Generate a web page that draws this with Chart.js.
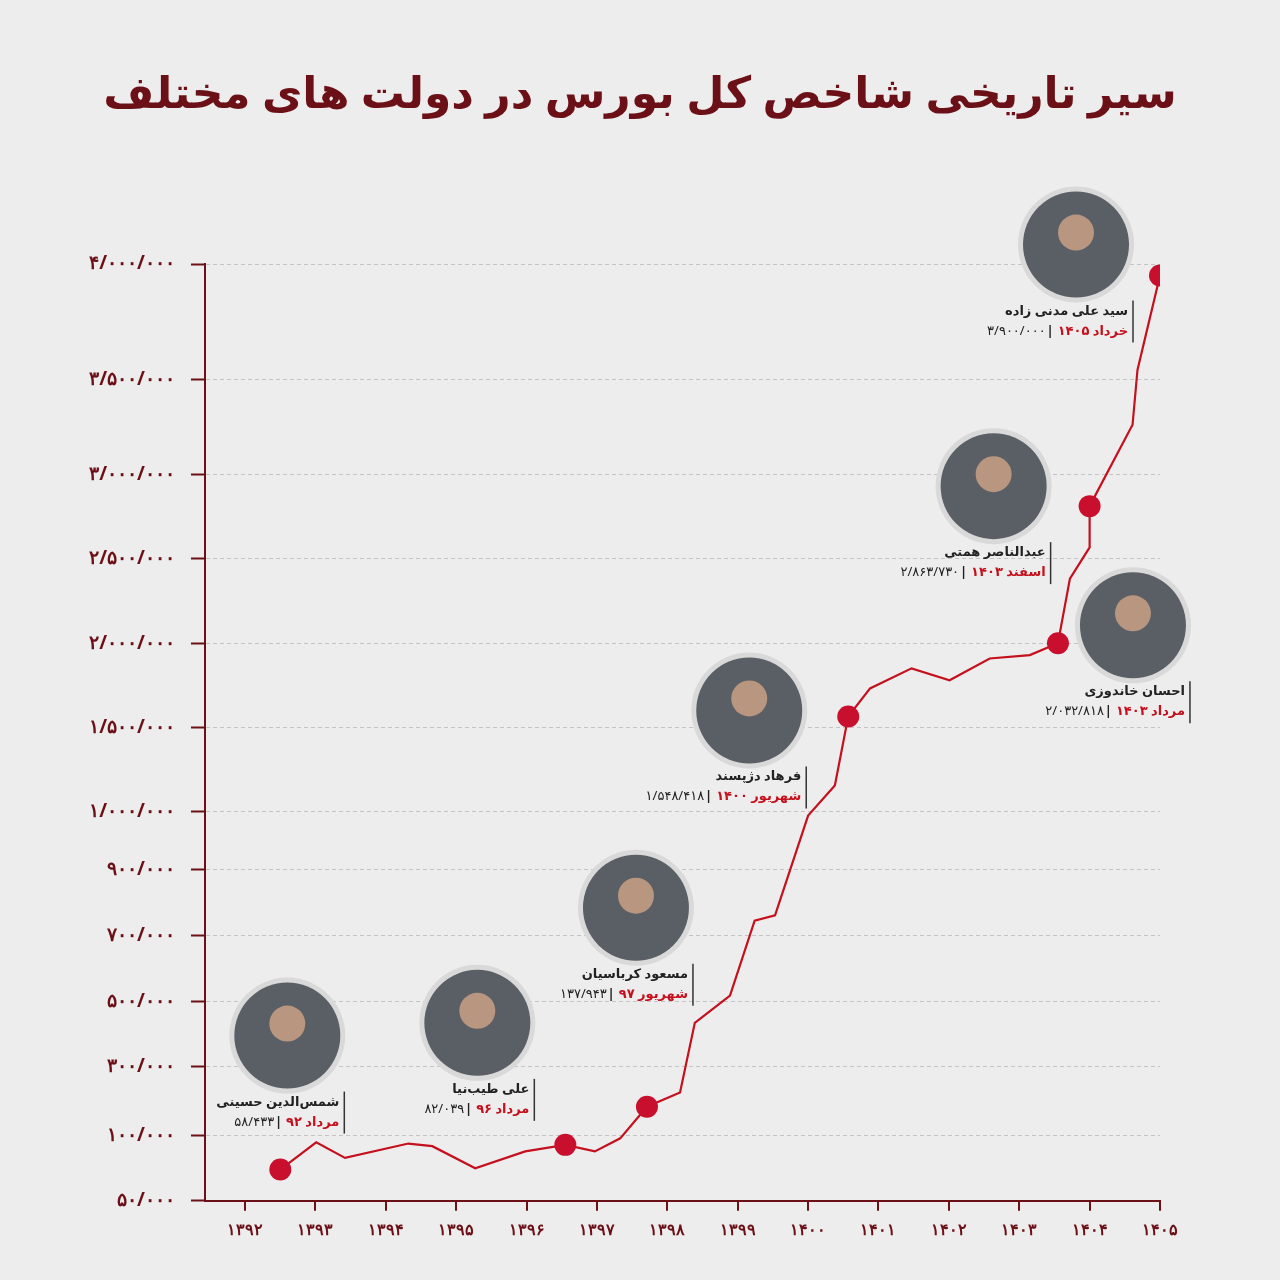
<!DOCTYPE html>
<html><head><meta charset="utf-8">
<script src="https://cdn.jsdelivr.net/npm/chart.js@4"></script>
<style>html,body{margin:0;padding:0;background:#eeeded;}canvas{display:block}</style>
</head><body>
<canvas id="c" width="1280" height="1280"></canvas>
<script>
const years = [1392.5,1393.01,1393.42,1394.32,1394.66,1395.27,1395.98,1396.55,1396.97,1397.33,1397.71,1398.18,1398.39,1398.89,1399.24,1399.53,1400.0,1400.38,1400.57,1400.88,1401.47,1402.01,1402.58,1403.15,1403.55,1403.72,1404.0,1404.0,1404.61,1404.68,1405.0];
const indexValues = [74000,95000,83000,94000,92000,75000,88000,93000,88000,98000,184000,225000,435000,518000,745000,761000,993000,1155000,1565000,1732000,1851000,1780000,1910000,1930000,2000000,2380000,2565000,2810000,3260000,3540000,3950000];
const markerIdx = [0,7,10,18,24,27,30];
const yTickValues = [50000,100000,300000,500000,700000,900000,1000000,1500000,2000000,2500000,3000000,3500000,4000000];
const xTickLabels = [1392,1393,1394,1395,1396,1397,1398,1399,1400,1401,1402,1403,1404,1405];
const people = ["شمس‌الدین حسینی","علی طیب‌نیا","مسعود کرباسیان","فرهاد دژپسند","احسان خاندوزی","عبدالناصر همتی","سید علی مدنی زاده"];
const dates = ["مرداد ۹۲","مرداد ۹۶","شهریور ۹۷","شهریور ۱۴۰۰","مرداد ۱۴۰۳","اسفند ۱۴۰۳","خرداد ۱۴۰۵"];
const labelValues = ["۵۸/۴۳۳","۸۲/۰۳۹","۱۳۷/۹۴۳","۱/۵۴۸/۴۱۸","۲/۰۳۲/۸۱۸","۲/۸۶۳/۷۳۰","۳/۹۰۰/۰۰۰"];
// scale layout (visual spacing of the uneven axis)
const yTickPos = [0,65,134,199,265,331,389,473,557,642,726,821,936];
const annOffsets = [[7,-134],[-88,-122],[-11,-199],[-99,-6],[75,-18],[-96,-20],[-84,-31]];

const fa = s => String(s).replace(/\d/g,d=>'۰۱۲۳۴۵۶۷۸۹'[d]);
const fmt = v => fa(v.toLocaleString('en-US').replace(/,/g,'/'));
function toPos(v){
  for(let i=0;i<yTickValues.length-1;i++){
    if(v<=yTickValues[i+1]){
      const a=yTickValues[i],b=yTickValues[i+1];
      return yTickPos[i]+(v-a)/(b-a)*(yTickPos[i+1]-yTickPos[i]);
    }
  }
  return yTickPos[yTickPos.length-1];
}
const pts = years.map((x,i)=>({x, y: toPos(indexValues[i])}));
const RED='#c4111d', DARK='#6b1016';

const annPlugin = {
  id:'ann',
  afterDatasetsDraw(chart){
    const ctx=chart.ctx, meta=chart.getDatasetMeta(0);
    ctx.save();
    ctx.fillStyle=DARK; ctx.font='bold 44px "Noto Sans", "DejaVu Sans"';
    ctx.textAlign='center'; ctx.direction='rtl';
    ctx.fillText('سیر تاریخی شاخص کل بورس در دولت های مختلف',640,108);
    markerIdx.forEach((idx,k)=>{
      const p=meta.data[idx];
      const cx=p.x+annOffsets[k][0], cy=p.y+annOffsets[k][1];
      ctx.beginPath(); ctx.arc(cx,cy,58,0,Math.PI*2); ctx.fillStyle='#d9d9d9'; ctx.fill();
      ctx.beginPath(); ctx.arc(cx,cy,53,0,Math.PI*2); ctx.fillStyle='#5a5f66'; ctx.fill();
      ctx.beginPath(); ctx.arc(cx,cy-12,18,0,Math.PI*2); ctx.fillStyle='#b89680'; ctx.fill();
      const rx=cx+52, ty=cy+70;
      ctx.strokeStyle='#333'; ctx.lineWidth=1.5;
      ctx.beginPath(); ctx.moveTo(rx+5,ty-14); ctx.lineTo(rx+5,ty+28); ctx.stroke();
      ctx.direction='rtl'; ctx.textAlign='right';
      ctx.font='bold 13px "Noto Sans", "DejaVu Sans"'; ctx.fillStyle='#222';
      ctx.fillText(people[k],rx,ty);
      ctx.fillStyle=RED;
      ctx.fillText(dates[k],rx,ty+20);
      const w=ctx.measureText(dates[k]).width;
      ctx.fillStyle='#222'; ctx.fillText('|',rx-w-4,ty+20);
      ctx.font='13px "Noto Sans", "DejaVu Sans"';
      ctx.direction='ltr'; ctx.textAlign='right';
      ctx.fillText(labelValues[k],rx-w-12,ty+20);
    });
    ctx.restore();
  }
};

new Chart(document.getElementById('c'),{
  type:'line',
  data:{datasets:[{data:pts,borderColor:RED,borderWidth:2.2,tension:0,
    pointRadius:pts.map((_,i)=>markerIdx.includes(i)?11:0),
    pointBackgroundColor:'#c8102e',pointBorderWidth:0}]},
  options:{
    responsive:false,animation:false,
    layout:{padding:{top:264,right:120,bottom:30,left:0}},
    plugins:{legend:{display:false},tooltip:{enabled:false}},
    scales:{
      x:{type:'linear',min:1391.43,max:1405,
        afterBuildTicks:s=>{s.ticks=xTickLabels.map(v=>({value:v}));},
        ticks:{callback:v=>fa(v),color:DARK,font:{size:16,weight:'bold',family:'"Noto Sans"'},padding:10,maxRotation:0,autoSkip:false},
        grid:{display:true,drawOnChartArea:false,color:DARK,tickLength:10,lineWidth:2},
        border:{color:DARK,width:2}},
      y:{type:'linear',min:0,max:936,
        afterFit:s=>{s.width=205;},
        afterBuildTicks:s=>{s.ticks=yTickPos.map(v=>({value:v}));},
        ticks:{callback:(v)=>{const i=yTickPos.indexOf(v);return i>=0?fmt(yTickValues[i]):'';},color:DARK,font:{size:19,weight:'bold',family:'"Noto Sans"'},padding:16,autoSkip:false},
        grid:{color:'#c4c4c4',lineWidth:1,tickLength:14,tickColor:DARK,tickWidth:2,drawTicks:true},
        border:{color:DARK,width:2,dash:[4,3]}}
    }
  },
  plugins:[annPlugin]
});
</script>
</body></html>
